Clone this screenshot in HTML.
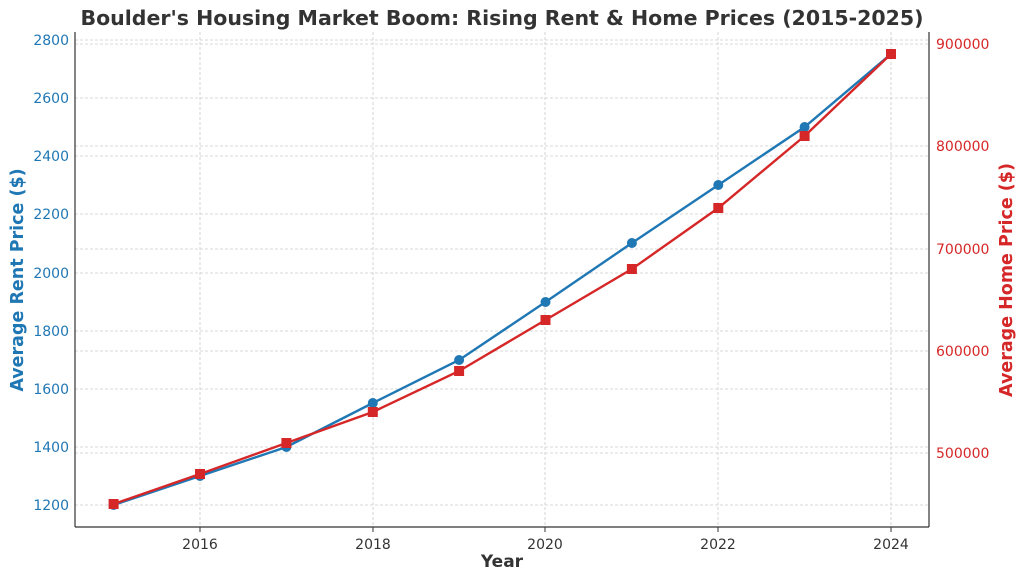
<!DOCTYPE html>
<html><head><meta charset="utf-8"><style>
body{margin:0;background:#fff;}
svg text{font-family:"DejaVu Sans","Liberation Sans",sans-serif;}
</style></head><body>
<svg width="1024" height="579" xmlns="http://www.w3.org/2000/svg">
<rect width="1024" height="579" fill="#fff"/>
<text x="502" y="25" text-anchor="middle" font-size="20.5" font-weight="bold" fill="#333">Boulder's Housing Market Boom: Rising Rent &amp; Home Prices (2015-2025)</text>
<g stroke="#ccc" stroke-width="0.8" stroke-dasharray="3,2">
<line x1="200" y1="32" x2="200" y2="527"/><line x1="373" y1="32" x2="373" y2="527"/>
<line x1="545" y1="32" x2="545" y2="527"/><line x1="718" y1="32" x2="718" y2="527"/>
<line x1="891" y1="32" x2="891" y2="527"/>
<line x1="75" y1="505" x2="929" y2="505"/><line x1="75" y1="447" x2="929" y2="447"/>
<line x1="75" y1="389" x2="929" y2="389"/><line x1="75" y1="331" x2="929" y2="331"/>
<line x1="75" y1="273" x2="929" y2="273"/><line x1="75" y1="214" x2="929" y2="214"/>
<line x1="75" y1="156" x2="929" y2="156"/><line x1="75" y1="98" x2="929" y2="98"/>
<line x1="75" y1="40" x2="929" y2="40"/>
<line x1="75" y1="453" x2="929" y2="453"/><line x1="75" y1="351" x2="929" y2="351"/>
<line x1="75" y1="249" x2="929" y2="249"/><line x1="75" y1="146" x2="929" y2="146"/>
<line x1="75" y1="44" x2="929" y2="44"/>
</g>
<g stroke="#333" stroke-width="1.2" fill="none">
<line x1="75" y1="32" x2="75" y2="527"/><line x1="929" y1="32" x2="929" y2="527"/>
<line x1="75" y1="527" x2="929" y2="527"/>
</g>
<g stroke="#333">
<line x1="200" y1="527" x2="200" y2="532"/><line x1="373" y1="527" x2="373" y2="532"/>
<line x1="545" y1="527" x2="545" y2="532"/><line x1="718" y1="527" x2="718" y2="532"/>
<line x1="891" y1="527" x2="891" y2="532"/>
</g>
<g font-size="14" fill="#333" text-anchor="middle">
<text x="200" y="549">2016</text><text x="373" y="549">2018</text><text x="545" y="549">2020</text><text x="718" y="549">2022</text><text x="891" y="549">2024</text>
</g>
<text x="502" y="567" text-anchor="middle" font-size="17" font-weight="bold" fill="#333">Year</text>
<g font-size="14" fill="#1f77b4" text-anchor="end">
<text x="69" y="510">1200</text><text x="69" y="452">1400</text><text x="69" y="394">1600</text>
<text x="69" y="336">1800</text><text x="69" y="278">2000</text><text x="69" y="219">2200</text>
<text x="69" y="161">2400</text><text x="69" y="103">2600</text><text x="69" y="45">2800</text>
</g>
<g font-size="14" fill="#d62728">
<text x="936" y="458">500000</text><text x="936" y="356">600000</text><text x="936" y="254">700000</text>
<text x="936" y="151">800000</text><text x="936" y="49">900000</text>
</g>
<text transform="translate(23,280) rotate(-90)" text-anchor="middle" font-size="17.5" font-weight="bold" fill="#1f77b4">Average Rent Price ($)</text>
<text transform="translate(1012,280) rotate(-90)" text-anchor="middle" font-size="17.5" font-weight="bold" fill="#d62728">Average Home Price ($)</text>
<polyline fill="none" stroke="#1f77b4" stroke-width="2.4" points="113.6,505 200,476 286.4,447 372.8,403 459.1,360 545.5,302 631.9,243 718.3,185 804.6,127 891,54"/>
<g fill="#1f77b4">
<circle cx="113.6" cy="505" r="5"/><circle cx="200" cy="476" r="5"/><circle cx="286.4" cy="447" r="5"/>
<circle cx="372.8" cy="403" r="5"/><circle cx="459.1" cy="360" r="5"/><circle cx="545.5" cy="302" r="5"/>
<circle cx="631.9" cy="243" r="5"/><circle cx="718.3" cy="185" r="5"/><circle cx="804.6" cy="127" r="5"/>
<circle cx="891" cy="54" r="5"/>
</g>
<polyline fill="none" stroke="#d62728" stroke-width="2.4" points="113.6,504 200,474 286.4,443 372.8,412 459.1,371 545.5,320 631.9,269 718.3,208 804.6,136 891,54"/>
<g fill="#d62728">
<rect x="108.6" y="499" width="10" height="10"/><rect x="195" y="469" width="10" height="10"/>
<rect x="281.4" y="438" width="10" height="10"/><rect x="367.8" y="407" width="10" height="10"/>
<rect x="454.1" y="366" width="10" height="10"/><rect x="540.5" y="315" width="10" height="10"/>
<rect x="626.9" y="264" width="10" height="10"/><rect x="713.3" y="203" width="10" height="10"/>
<rect x="799.6" y="131" width="10" height="10"/><rect x="886" y="49" width="10" height="10"/>
</g>
</svg>
</body></html>
